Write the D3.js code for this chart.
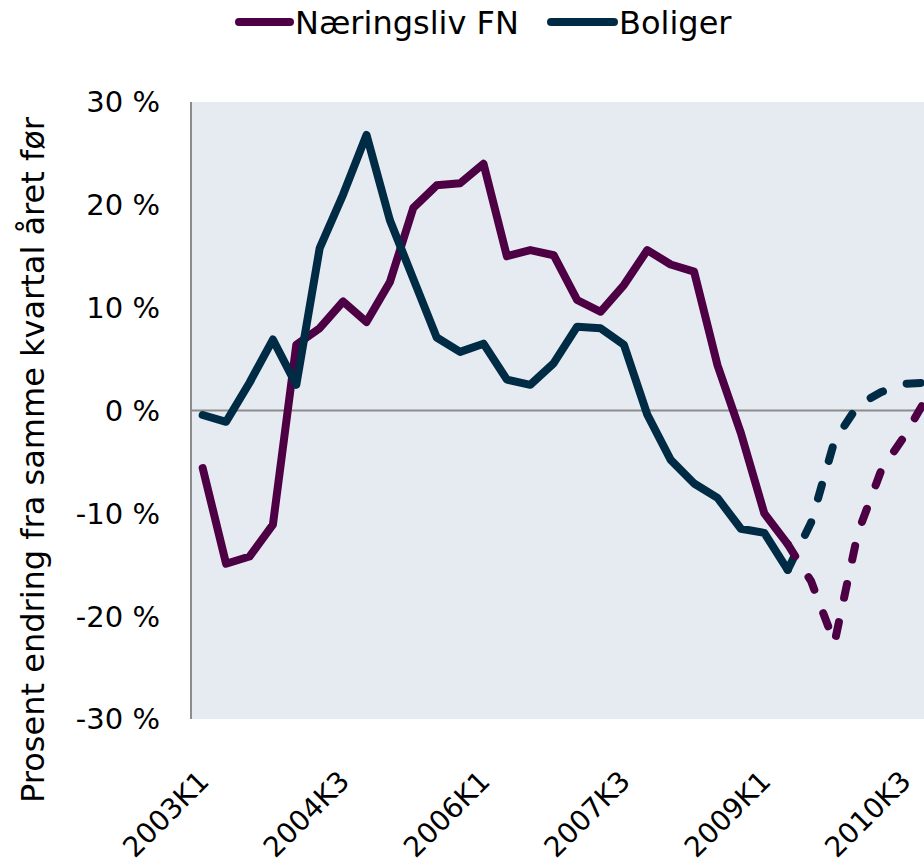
<!DOCTYPE html>
<html>
<head>
<meta charset="utf-8">
<script src="https://cdn.jsdelivr.net/npm/d3@7"></script>
<style>
  html, body { margin: 0; padding: 0; background: #ffffff; }
  svg { display: block; }
  text { font-family: "DejaVu Sans", Verdana, sans-serif; fill: #000; }
</style>
</head>
<body>
<svg id="chart" width="924" height="868"></svg>
<script>
// ---- data ----
const categories = [
  "2003K1","2003K2","2003K3","2003K4",
  "2004K1","2004K2","2004K3","2004K4",
  "2005K1","2005K2","2005K3","2005K4",
  "2006K1","2006K2","2006K3","2006K4",
  "2007K1","2007K2","2007K3","2007K4",
  "2008K1","2008K2","2008K3","2008K4",
  "2009K1","2009K2","2009K3","2009K4",
  "2010K1","2010K2","2010K3","2010K4"
];
const xTickLabels = ["2003K1","2004K3","2006K1","2007K3","2009K1","2010K3"];
const yTicks = [30, 20, 10, 0, -10, -20, -30];

const seriesNames = ["Næringsliv FN", "Boliger"];
const seriesColors = ["#4E0044", "#002B45"];

// Næringsliv FN, actual (2003K1 - 2009K2)
const naeringActual = [
  -5.6, -14.9, -14.2, -11.1,
   6.4,   8.0,  10.6,   8.6,
  12.5,  19.7,  21.9,  22.1,
  24.0,  15.0,  15.6,  15.1,
  10.75,  9.6,  12.2,  15.6,
  14.2,  13.5,   4.4,  -2.2,
 -10.0, -13.0
];
// Næringsliv FN, projection (2009K2 - 2010K4)
const naeringForecast = [-13.0, -16.6, -22.6, -11.9, -5.8, -2.45, 1.5];

// Boliger, actual (2003K1 - 2009K2)
const boligerActual = [
  -0.44, -1.1,  2.7,  6.9,
   2.5,  15.8, 21.0, 26.8,
  18.5,  12.8,  7.1,  5.7,
   6.5,   3.0,  2.5,  4.6,
   8.15,  8.0,  6.4, -0.4,
  -4.8,  -7.1, -8.5, -11.5,
 -11.9, -15.5
];
// Boliger, projection (2009K2 - 2010K4)
const boligerForecast = [-15.5, -10.9, -2.95, 0.5, 1.8, 2.6, 2.7];

const forecastStart = 25; // index of 2009K2

// ---- layout ----
const svg = d3.select("#chart");
const plotLeft = 191, plotTop = 102, plotBottom = 719;
const step = 23.4;
const plotRight = plotLeft + step * categories.length;

const x = d3.scalePoint().domain(categories).range([plotLeft, plotRight]).padding(0.5);
const y = d3.scaleLinear().domain([-30, 30]).range([plotBottom, plotTop]);

// plot background
svg.append("rect")
  .attr("x", plotLeft).attr("y", plotTop)
  .attr("width", plotRight - plotLeft).attr("height", plotBottom - plotTop)
  .attr("fill", "#E6EBF2");

// zero line (category axis)
svg.append("line")
  .attr("x1", plotLeft).attr("x2", plotRight)
  .attr("y1", y(0)).attr("y2", y(0))
  .attr("stroke", "#8C8C8C").attr("stroke-width", 2);

// left value axis line
svg.append("line")
  .attr("x1", plotLeft).attr("x2", plotLeft)
  .attr("y1", plotTop).attr("y2", plotBottom)
  .attr("stroke", "#8C8C8C").attr("stroke-width", 2);

// y tick labels
svg.append("g").selectAll("text").data(yTicks).join("text")
  .attr("x", 160).attr("y", d => y(d))
  .attr("dy", "0.36em")
  .attr("text-anchor", "end")
  .style("font-size", "29px")
  .text(d => (d < 0 ? "-" + Math.abs(d) : d) + " %");

// x tick labels
svg.append("g").selectAll("text").data(xTickLabels).join("text")
  .attr("text-anchor", "end")
  .attr("transform", d => `translate(${x(d) + 8},${plotBottom + 64}) rotate(-45)`)
  .style("font-size", "28px")
  .text(d => d);

// y axis title
svg.append("text")
  .attr("text-anchor", "middle")
  .attr("transform", `translate(44,460) rotate(-90)`)
  .style("font-size", "32px")
  .text("Prosent endring fra samme kvartal året før");

// lines
const line = d3.line().x(d => x(d.c)).y(d => y(d.v));
function toPts(vals, offset) { return vals.map((v, i) => ({ c: categories[i + offset], v })); }

const seriesDefs = [
  { vals: naeringActual, offset: 0, color: seriesColors[0], dashed: false },
  { vals: boligerActual, offset: 0, color: seriesColors[1], dashed: false },
  { vals: boligerForecast, offset: forecastStart, color: seriesColors[1], dashed: true },
  { vals: naeringForecast, offset: forecastStart, color: seriesColors[0], dashed: true }
];
seriesDefs.forEach(s => {
  svg.append("path")
    .attr("d", line(toPts(s.vals, s.offset)))
    .attr("fill", "none")
    .attr("stroke", s.color)
    .attr("stroke-width", 8)
    .attr("stroke-linecap", "round")
    .attr("stroke-linejoin", "round")
    .attr("stroke-dasharray", s.dashed ? "14,25" : null);
});

// legend
const legendItems = [
  { name: seriesNames[0], color: seriesColors[0], x1: 239, x2: 290, tx: 295 },
  { name: seriesNames[1], color: seriesColors[1], x1: 551, x2: 614, tx: 619 }
];
const lg = svg.append("g");
legendItems.forEach(it => {
  lg.append("line")
    .attr("x1", it.x1).attr("x2", it.x2).attr("y1", 22).attr("y2", 22)
    .attr("stroke", it.color).attr("stroke-width", 8).attr("stroke-linecap", "round");
  lg.append("text")
    .attr("x", it.tx).attr("y", 34)
    .style("font-size", "32px")
    .text(it.name);
});
</script>
</body>
</html>
